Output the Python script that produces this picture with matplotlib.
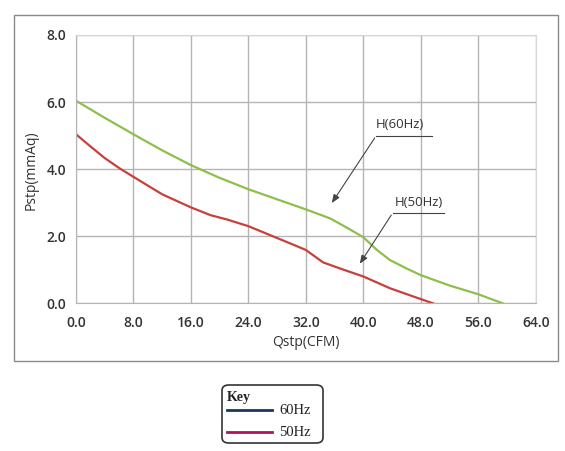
import matplotlib
matplotlib.use("Agg")
import matplotlib.pyplot as plt
from matplotlib.patches import Rectangle, FancyBboxPatch
from matplotlib.lines import Line2D

# ---- data ----
q_60 = [0, 4, 8, 12, 16, 20, 24, 28, 32, 35.4, 38, 40, 41.9, 43.7, 46, 48, 52, 56, 59.4]
p_60 = [6.04, 5.53, 5.04, 4.56, 4.12, 3.74, 3.40, 3.10, 2.80, 2.53, 2.22, 1.97, 1.59, 1.29, 1.04, 0.84, 0.53, 0.27, 0.0]

q_50 = [0, 2, 4, 6.1, 8, 12, 16, 18.7, 21, 24, 27.5, 30, 32, 34.4, 37, 40, 43.7, 47, 49.7]
p_50 = [5.04, 4.68, 4.33, 4.02, 3.77, 3.25, 2.86, 2.63, 2.50, 2.30, 1.99, 1.77, 1.59, 1.22, 1.02, 0.80, 0.45, 0.20, 0.0]

x_ticks = [0, 8, 16, 24, 32, 40, 48, 56, 64]
y_ticks = [0, 2, 4, 6, 8]
x_label = "Qstp(CFM)"
y_label = "Pstp(mmAq)"
ann_60_text = "H(60Hz)"
ann_50_text = "H(50Hz)"
legend_title = "Key"
legend_labels = ["60Hz", "50Hz"]

GREEN = "#8dbf4c"
RED = "#c8403c"
TXT = "#333333"

W, H = 565, 451
fig = plt.figure(figsize=(W / 100, H / 100), dpi=100)

def fx(px):
    return px / W

def fy(py):
    return 1 - py / H

# outer frame
fig.patches.append(Rectangle((fx(13.5), fy(361)), fx(558) - fx(13.5), fy(15) - fy(361),
                             transform=fig.transFigure, fill=False, edgecolor="#8a8a8a", lw=1.0))

ax = fig.add_axes([fx(76), fy(303.3), fx(535.7) - fx(76), fy(35) - fy(303.3)])
ax.set_xlim(0, 64)
ax.set_ylim(0, 8)
ax.set_xticks(x_ticks)
ax.set_yticks(y_ticks)
ax.set_xticklabels([f"{v:.1f}" for v in x_ticks])
ax.set_yticklabels([f"{v:.1f}" for v in y_ticks])
ax.tick_params(length=0, labelsize=10, colors=TXT)
ax.tick_params(axis="x", pad=9)
ax.tick_params(axis="y", pad=7)
for lab in ax.get_xticklabels() + ax.get_yticklabels():
    lab.set_family("Open Sans")
    lab.set_fontweight("semibold")
ax.grid(True, color="#b4b4b4", lw=1.0)
ax.set_axisbelow(True)
for s in ["left", "bottom"]:
    ax.spines[s].set_color("#b4b4b4")
for s in ["top", "right"]:
    ax.spines[s].set_color("#d8d8d8")

ax.plot(q_60, p_60, color=GREEN, lw=1.6, solid_joinstyle="round")
ax.plot(q_50, p_50, color=RED, lw=1.6, solid_joinstyle="round")

# annotations
ann_kw = dict(fontsize=9.5, color=TXT, family="Open Sans", ha="center", va="center")
ax.text(45.1, 5.32, ann_60_text, **ann_kw)
ax.plot([41.8, 49.5], [5.0, 5.0], color="#444444", lw=0.8)
ax.annotate("", xy=(35.4, 2.92), xytext=(41.8, 5.0),
            arrowprops=dict(arrowstyle="-|>,head_length=0.5,head_width=0.2", color="#444444", lw=0.8))
ax.text(47.7, 3.01, ann_50_text, **ann_kw)
ax.plot([44.1, 51.2], [2.70, 2.70], color="#444444", lw=0.8)
ax.annotate("", xy=(39.3, 1.11), xytext=(44.1, 2.70),
            arrowprops=dict(arrowstyle="-|>,head_length=0.5,head_width=0.2", color="#444444", lw=0.8))

# axis labels
fig.text(fx(306), fy(343), x_label, ha="center", va="center", fontsize=10, color=TXT, family="Open Sans")
fig.text(fx(31.5), fy(170), y_label, ha="center", va="center", fontsize=10, color=TXT,
         family="Open Sans", rotation=90)

# legend key box
fig.patches.append(FancyBboxPatch((fx(222), fy(443)), fx(323) - fx(222), fy(385) - fy(443),
                                  boxstyle="round,pad=0,rounding_size=0.012",
                                  transform=fig.transFigure, fill=False, edgecolor="#333333", lw=1.2))
fig.text(fx(226.5), fy(398), legend_title, ha="left", va="center", fontsize=10,
         family="Liberation Serif", fontweight="bold", color="#222222")
leg_colors = ["#1d3557", "#b0125e"]
leg_y = [410, 432]
for lab, col, yy in zip(legend_labels, leg_colors, leg_y):
    fig.lines.append(Line2D([fx(227.3), fx(271.7)], [fy(yy), fy(yy)], transform=fig.transFigure,
                            color=col, lw=2.0))
    fig.text(fx(279), fy(yy + 1), lab, ha="left", va="center", fontsize=10.5,
             family="Liberation Serif", color="#222222")

fig.savefig("out.png", dpi=100)
